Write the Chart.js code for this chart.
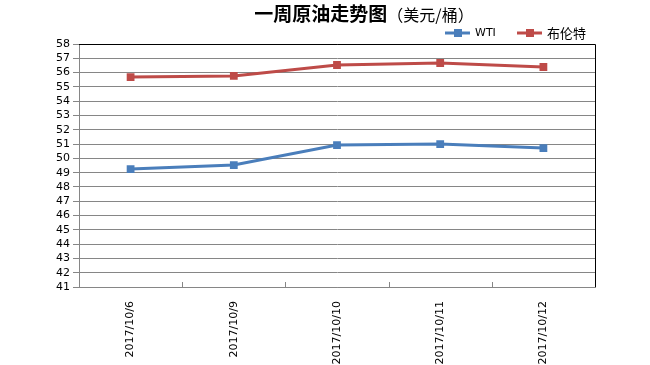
<!DOCTYPE html>
<html>
<head>
<meta charset="UTF-8">
<title>一周原油走势图</title>
<script src="https://cdn.jsdelivr.net/npm/chart.js@4/dist/chart.umd.min.js"></script>
<style>
  html, body { margin: 0; padding: 0; background: #fff; }
  #wrap { width: 650px; height: 365px; }
</style>
</head>
<body>
<div id="wrap"><canvas id="myChart" width="650" height="365"></canvas></div>
<script>
// data
var dates = ['2017/10/6', '2017/10/9', '2017/10/10', '2017/10/11', '2017/10/12'];
var wti = [49.25, 49.53, 50.93, 51.0, 50.72];
var brent = [55.69, 55.77, 56.53, 56.67, 56.39];
var yMin = 41, yMax = 58;

var blue = '#4a7ebb';
var red = '#be4b48';

// title, legend, plot border and category tick marks
var decor = {
  id: 'decor',
  afterDraw: function(chart) {
    var c = chart.ctx, a = chart.chartArea;
    c.save();
    // title
    c.textBaseline = 'middle';
    c.fillStyle = '#000';
    var t1 = '一周原油走势图';
    var t2 = '（美元/桶）';
    c.font = '16px "Noto Sans CJK SC"';
    var w2 = c.measureText(t2).width;
    c.font = 'bold 19px "Noto Sans CJK SC"';
    var w1 = c.measureText(t1).width;
    var x0 = 364 - (w1 + w2) / 2;
    c.textAlign = 'left';
    c.fillText(t1, x0, 14);
    c.font = '16px "Noto Sans CJK SC"';
    c.fillText(t2, x0 + w1, 15);

    // legend
    var items = [[blue, 'WTI', 445, '11px "DejaVu Sans"'], [red, '布伦特', 517, '13px "Noto Sans CJK SC"']];
    items.forEach(function(it) {
      c.strokeStyle = it[0];
      c.lineWidth = 3;
      c.beginPath();
      c.moveTo(it[2], 33);
      c.lineTo(it[2] + 25, 33);
      c.stroke();
      c.fillStyle = it[0];
      c.fillRect(it[2] + 9, 29, 8, 8);
      c.fillStyle = '#000';
      c.font = it[3];
      c.fillText(it[1], it[2] + 30, 33);
    });

    // black top and right border
    c.strokeStyle = '#000';
    c.lineWidth = 1;
    c.beginPath();
    c.moveTo(a.left, a.top + 0.5);
    c.lineTo(a.right + 0.5, a.top + 0.5);
    c.lineTo(a.right + 0.5, a.bottom);
    c.stroke();

    // small ticks between categories
    var xs = chart.scales.x;
    c.strokeStyle = '#868686';
    for (var i = 1; i < dates.length; i++) {
      var px = Math.round(xs.getPixelForValue(i - 0.5)) + 0.5;
      c.beginPath();
      c.moveTo(px, a.bottom - 5);
      c.lineTo(px, a.bottom);
      c.stroke();
    }
    c.restore();
  }
};

var ctx = document.getElementById('myChart').getContext('2d');
var chart = new Chart(ctx, {
  type: 'line',
  data: {
    labels: dates,
    datasets: [{
      label: 'WTI',
      data: wti,
      borderColor: blue,
      backgroundColor: blue,
      borderWidth: 3,
      pointStyle: 'rect',
      pointRadius: 5.5,
      pointBorderWidth: 0,
      tension: 0
    }, {
      label: '布伦特',
      data: brent,
      borderColor: red,
      backgroundColor: red,
      borderWidth: 3,
      pointStyle: 'rect',
      pointRadius: 5.5,
      pointBorderWidth: 0,
      tension: 0
    }]
  },
  options: {
    responsive: false,
    animation: false,
    layout: { padding: { top: 44, right: 55, left: 0, bottom: 0 } },
    plugins: {
      legend: { display: false },
      title: { display: false },
      tooltip: { enabled: false }
    },
    scales: {
      x: {
        offset: true,
        grid: { display: false },
        border: { display: true, color: '#868686', width: 1 },
        ticks: {
          color: '#000',
          font: { family: 'DejaVu Sans', size: 11 },
          minRotation: 90,
          maxRotation: 90,
          padding: 6
        },
        afterFit: function(s) { s.height = 78; }
      },
      y: {
        min: yMin,
        max: yMax,
        grid: { color: '#868686', lineWidth: 1, tickLength: 6, tickColor: '#868686' },
        border: { display: true, color: '#868686', width: 1 },
        ticks: {
          stepSize: 1,
          autoSkip: false,
          color: '#000',
          font: { family: 'DejaVu Sans', size: 11 },
          padding: 3
        },
        afterFit: function(s) { s.width = 79; }
      }
    }
  },
  plugins: [decor]
});
</script>
</body>
</html>
